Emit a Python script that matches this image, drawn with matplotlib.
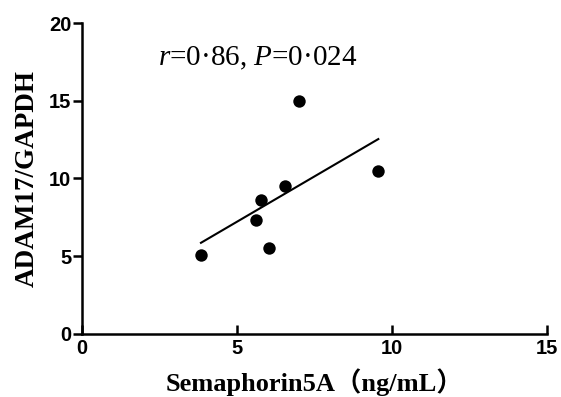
import numpy as np
import matplotlib
matplotlib.use('Agg')
import matplotlib.pyplot as plt

# values
sema5a = [3.84, 5.63, 5.79, 6.03, 6.56, 6.99, 9.56]
adam17 = [5.06, 7.33, 8.62, 5.52, 9.50, 14.98, 10.45]
xticks_ = [0, 5, 10, 15]
yticks_ = [0, 5, 10, 15, 20]
stat_text = '$r$=0·86, $P$=0·024'

plt.rcParams['mathtext.fontset'] = 'custom'
plt.rcParams['mathtext.it'] = 'Liberation Serif:italic'
plt.rcParams['mathtext.rm'] = 'Liberation Serif'

fig = plt.figure(figsize=(5.61, 3.97), dpi=100)
ax = fig.add_axes([0.146, 0.159, 0.829, 0.783])

ax.scatter(sema5a, adam17, s=80, color='black', zorder=3, linewidths=0)

# linear regression line over the data range
k, b = np.polyfit(sema5a, adam17, 1)
xs = np.array([min(sema5a), max(sema5a)])
ax.plot(xs, k * xs + b, color='black', lw=1.5)

ax.set_xlim(0, 15)
ax.set_ylim(0, 20)
ax.set_xticks(xticks_)
ax.set_yticks(yticks_)

for s in ['top', 'right']:
    ax.spines[s].set_visible(False)
for s in ['left', 'bottom']:
    ax.spines[s].set_linewidth(1.8)

ax.tick_params(axis='y', direction='out', length=6.5, width=1.8, pad=1)
ax.tick_params(axis='x', direction='in', length=6.5, width=1.8, pad=4)
for lab in ax.get_xticklabels() + ax.get_yticklabels():
    lab.set_fontfamily('Liberation Sans')
    lab.set_fontweight('bold')
    lab.set_fontsize(14.5)

ax.set_xlabel('Semaphorin5A（ng/mL）', family=['Liberation Serif', 'Noto Sans CJK SC'],
              fontweight='bold', fontsize=19, labelpad=7)
ax.set_ylabel('ADAM17/GAPDH', family='Liberation Serif', fontweight='bold',
              fontsize=19.5, labelpad=7)

ax.text(2.45, 17.3, stat_text, family='Liberation Serif', fontsize=21,
        ha='left', va='baseline')

fig.savefig('out.png', dpi=100)
